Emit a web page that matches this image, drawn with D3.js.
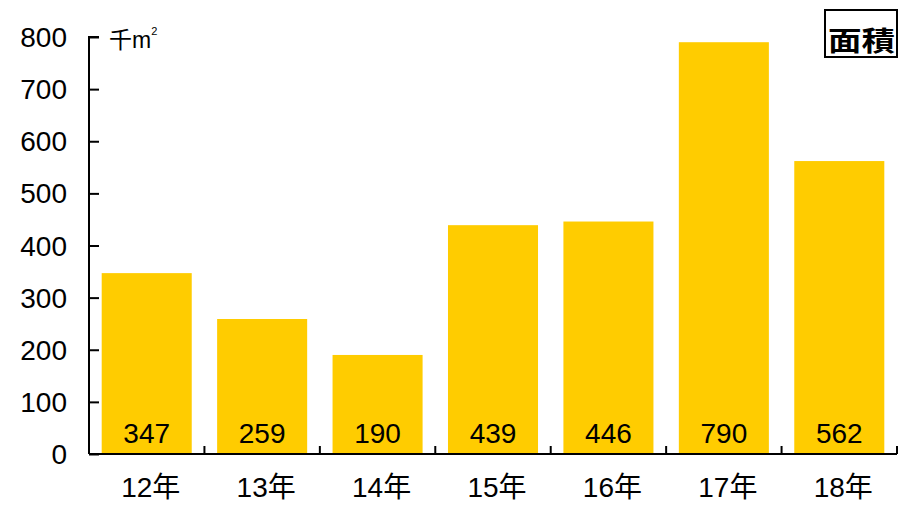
<!DOCTYPE html>
<html>
<head>
<meta charset="utf-8">
<script src="https://cdn.jsdelivr.net/npm/d3@7"></script>
<style>
  body { margin: 0; background: #fff; }
  text { font-family: "Liberation Sans", Arial, "Noto Sans CJK JP", sans-serif; fill: #000; }
</style>
</head>
<body>
<svg id="chart" width="900" height="505"></svg>
<script>
// data
var years = ["12年", "13年", "14年", "15年", "16年", "17年", "18年"];
var areas = [347, 259, 190, 439, 446, 790, 562];
var yTicks = [0, 100, 200, 300, 400, 500, 600, 700, 800];

var svg = d3.select("#chart");
var plotLeft = 89, plotRight = 897, plotTop = 37, plotBottom = 454;

var x = d3.scaleBand().domain(years).range([plotLeft, plotRight]).paddingInner(0.22).paddingOuter(0.11);
var y = d3.scaleLinear().domain([0, 800]).range([plotBottom, plotTop]);

// bars
svg.append("g").selectAll("rect")
    .data(areas)
    .enter().append("rect")
    .attr("x", function (d, i) { return x(years[i]); })
    .attr("y", function (d) { return y(d); })
    .attr("width", x.bandwidth())
    .attr("height", function (d) { return plotBottom - y(d); })
    .style("fill", "#FFCC00");

// value labels inside bars
svg.append("g").selectAll("text")
    .data(areas)
    .enter().append("text")
    .attr("x", function (d, i) { return x(years[i]) + x.bandwidth() / 2; })
    .attr("y", plotBottom - 11)
    .attr("text-anchor", "middle")
    .style("font-size", "28px")
    .text(function (d) { return d; });

// y axis, ticks pointing inward
var yAxis = d3.axisRight(y).tickValues(yTicks).tickSize(10).tickFormat("");
var gy = svg.append("g").attr("transform", "translate(" + plotLeft + ",0)").call(yAxis);
gy.select(".domain").attr("d", "M10," + plotTop + "H0V" + plotBottom);
gy.selectAll("line, path").attr("stroke", "#000").attr("stroke-width", 2);

svg.append("g").selectAll("text")
    .data(yTicks)
    .enter().append("text")
    .attr("x", 67)
    .attr("y", function (d) { return y(d) + 10; })
    .attr("text-anchor", "end")
    .style("font-size", "28px")
    .text(function (d) { return d; });

// x axis: ticks between categories, pointing up
var step = (plotRight - plotLeft) / years.length;
var bounds = d3.range(1, years.length + 1).map(function (i) { return plotLeft + i * step; });
var gx = svg.append("g");
gx.append("line")
    .attr("x1", plotLeft).attr("x2", plotRight)
    .attr("y1", plotBottom).attr("y2", plotBottom)
    .attr("stroke", "#000").attr("stroke-width", 2);
gx.selectAll(".xtick")
    .data(bounds)
    .enter().append("line")
    .attr("class", "xtick")
    .attr("x1", function (d) { return d; }).attr("x2", function (d) { return d; })
    .attr("y1", plotBottom).attr("y2", plotBottom - 8)
    .attr("stroke", "#000").attr("stroke-width", 2);

svg.append("g").selectAll("text")
    .data(years)
    .enter().append("text")
    .attr("x", function (d) { return x(d) + x.bandwidth() / 2 + 4; })
    .attr("y", 497)
    .attr("text-anchor", "middle")
    .style("font-size", "28px")
    .text(function (d) { return d; });

// unit label
var unit = svg.append("text")
    .attr("x", 109)
    .attr("y", 48)
    .style("font-size", "23px")
    .text("千m");
unit.append("tspan")
    .attr("dy", -13)
    .style("font-size", "11px")
    .text("2");

// legend box
svg.append("rect")
    .attr("x", 825).attr("y", 10)
    .attr("width", 72).attr("height", 47)
    .style("fill", "#fff")
    .style("stroke", "#000")
    .style("stroke-width", 2);
svg.append("text")
    .attr("x", 828)
    .attr("y", 51)
    .attr("textLength", 67)
    .attr("lengthAdjust", "spacingAndGlyphs")
    .style("font-size", "27px")
    .style("font-weight", "bold")
    .style("font-family", "'Noto Sans CJK JP', sans-serif")
    .text("面積");
</script>
</body>
</html>
